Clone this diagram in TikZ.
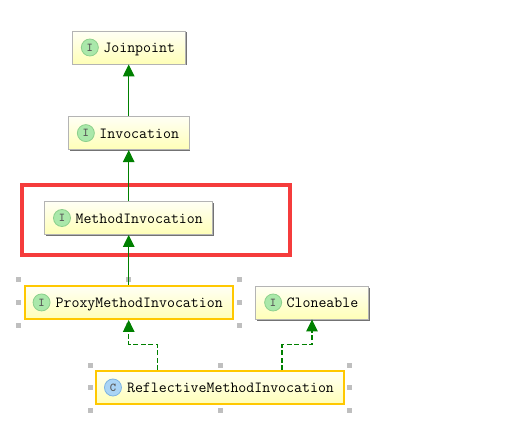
\documentclass[tikz,border=0pt]{standalone}
\usetikzlibrary{arrows.meta,positioning,shadows}
\definecolor{ExtendsGreen}{RGB}{0,128,0}
\definecolor{MarkRed}{RGB}{245,60,60}
\definecolor{PickedYellow}{RGB}{255,200,0}
\definecolor{BoxEdge}{RGB}{180,180,180}
\definecolor{IfaceFill}{RGB}{170,232,170}
\definecolor{IfaceEdge}{RGB}{140,208,140}
\definecolor{ClassFill}{RGB}{170,212,245}
\definecolor{ClassEdge}{RGB}{125,180,225}
\newcommand{\typename}[1]{\hspace*{21pt}#1}

\begin{document}
\begin{tikzpicture}[
  x=1pt, y=1pt,
  font=\fontsize{15.45}{16}\selectfont\ttfamily,
  >={Triangle[length=12pt,width=11.5pt]},
  extends/.style={->, line width=1.2pt, draw=ExtendsGreen},
  implements/.style={extends, dash pattern=on 5pt off 2.5pt},
  typebox/.style={rectangle, top color=yellow!4, bottom color=yellow!28,
                  inner xsep=10pt, inner ysep=0pt, minimum height=33pt,
                  text height=13pt, text depth=3pt},
  plain/.style={typebox, draw=BoxEdge, line width=0.9pt,
                drop shadow={shadow xshift=1.5pt, shadow yshift=-1.5pt,
                             shadow scale=1, fill=black!55, opacity=1}},
  picked/.style={typebox, draw=PickedYellow, line width=2pt},
  iface/.style={circle, draw=IfaceEdge, fill=IfaceFill, line width=0.8pt,
                minimum size=17pt, inner sep=0pt,
                font=\fontsize{12}{12}\selectfont\bfseries\ttfamily, text=black!65},
  klass/.style={iface, draw=ClassEdge, fill=ClassFill},
  handle/.style={rectangle, fill=black!25, minimum size=5pt, inner sep=0pt},
  markbox/.style={rectangle, draw=MarkRed, line width=3.4pt,
                  minimum width=268pt, minimum height=70pt}
]
\useasboundingbox (0,0) rectangle (509,-444);

% Inheritance stack.
\node[plain] (joinpoint) at (128.7,-47.5) {\typename{Joinpoint}};
\node[plain, below=51.7pt of joinpoint] (invocation) {\typename{Invocation}};
\node[plain, below=51pt of invocation] (method) {\typename{MethodInvocation}};
\node[markbox] (mark) at (156,-220) {};
\node[picked, below=50pt of method] (proxy) {\typename{ProxyMethodInvocation}};

% Right-hand side.
\node[plain] (cloneable) at (312,-302.5) {\typename{Cloneable}};
\node[picked] (reflective) at (220,-387.5) {\typename{ReflectiveMethodInvocation}};

% Type icons.
\node[iface, right=9pt of joinpoint.west] (joinpointicon) {I};
\node[iface, right=9pt of invocation.west] (invocationicon) {I};
\node[iface, right=9pt of method.west] (methodicon) {I};
\node[iface, right=9pt of proxy.west] (proxyicon) {I};
\node[iface, right=9pt of cloneable.west] (cloneableicon) {I};
\node[klass, right=9pt of reflective.west] (reflectiveicon) {C};

% Selection handles.
\foreach \target/\gap in {proxy/5.5, reflective/5}
  \foreach \spot/\dx/\dy in {north west/-1/1, north/0/1, north east/1/1, west/-1/0,
                             east/1/0, south west/-1/-1, south/0/-1, south east/1/-1}
    \node[handle] (\target-\spot) at ([xshift=\dx*\gap pt, yshift=\dy*\gap pt]\target.\spot) {};

% Extends.
\draw[extends] (invocation) -- (joinpoint);
\draw[extends] (method) -- (invocation);
\draw[extends] (proxy) -- (method);

% Implements.
\draw[implements] ([xshift=-62.5pt]reflective.north) -- ++(0,25.5) -| (proxy.south);
\draw[implements] ([xshift=62pt]reflective.north) -- ++(0,25.5) -| (cloneable.south);

\end{tikzpicture}
\end{document}
